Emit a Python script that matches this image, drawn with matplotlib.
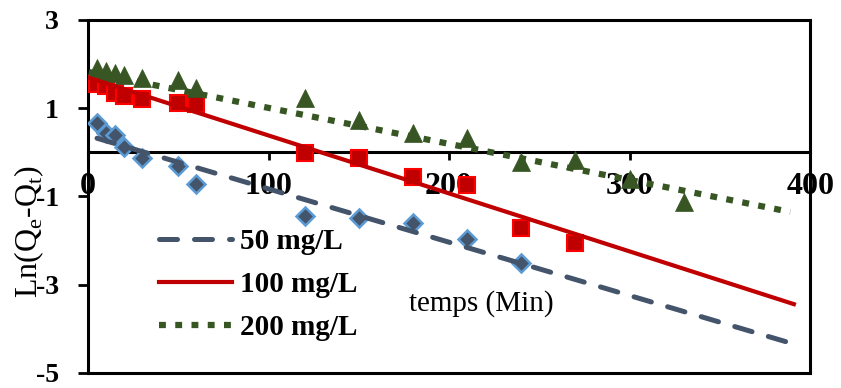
import matplotlib
matplotlib.use('Agg')
import matplotlib.pyplot as plt

# -------------------------------------------------------- #
#                  Data                 #
# -------------------------------------------------------- #

t_50 = [5, 10, 15, 20, 30, 50, 60, 120, 150, 180, 210, 240]
ln_50 = [0.66, 0.43, 0.39, 0.13, -0.13, -0.32, -0.72, -1.44, -1.49, -1.59,
         -1.97, -2.51]

t_100 = [5, 10, 15, 20, 30, 50, 60, 120, 150, 180, 210, 240, 270]
ln_100 = [1.55, 1.51, 1.35, 1.28, 1.21, 1.12, 1.10, -0.02, -0.13, -0.55,
          -0.74, -1.71, -2.05]

t_200 = [5, 10, 15, 20, 30, 50, 60, 120, 150, 180, 210, 240, 270, 300, 330]
ln_200 = [1.91, 1.85, 1.80, 1.76, 1.69, 1.64, 1.46, 1.23, 0.73, 0.44, 0.33,
          -0.21, -0.17, -0.60, -1.12]

# trend lines (end points as drawn)
trend_x_50 = [5, 389]
trend_y_50 = [0.32, -4.32]
trend_x_100 = [0.5, 391]
trend_y_100 = [1.69, -3.44]
trend_x_200 = [0.5, 389]
trend_y_200 = [1.82, -1.35]

labels = ['50 mg/L', '100 mg/L', '200 mg/L']
xticks = [0, 100, 200, 300, 400]
yticks = [-5, -3, -1, 1, 3]

# -------------------------------------------------------- #
#                        Plotting                          #
# -------------------------------------------------------- #

plt.rcParams['font.family'] = ['Liberation Serif', 'DejaVu Serif']
plt.rcParams['axes.unicode_minus'] = False

fig = plt.figure(figsize=(8.41, 3.88), dpi=100)
ax = fig.add_axes([0.1046, 0.0387, 0.8587, 0.9098])

c_50, c_50e = '#44546A', '#5B9BD5'
c_100, c_100e = '#C00000', '#FF0000'
c_200 = '#375623'

# ---------- markers ---------- #
ax.plot(t_50, ln_50, ls='none', marker='D', ms=9, mfc=c_50, mec=c_50e,
        mew=1.8, zorder=3)
ax.plot(t_100, ln_100, ls='none', marker='s', ms=11.5, mfc=c_100,
        mec=c_100e, mew=1.5, zorder=3)
ax.plot(t_200, ln_200, ls='none', marker='^', ms=12.5, mfc=c_200,
        mec=c_200, mew=0.5, zorder=3)

# ---------- trend lines ---------- #
ax.plot(trend_x_50, trend_y_50, color=c_50, lw=3.6, dashes=(3.6, 3.4),
        dash_capstyle='round', label=labels[0], zorder=4)
ax.plot(trend_x_100, trend_y_100, color=c_100, lw=3.0, label=labels[1],
        zorder=4)
ax.plot(trend_x_200, trend_y_200, color=c_200, lw=4.5, dashes=(1.1, 1.5),
        label=labels[2], zorder=4)

# ---------- axes ---------- #
ax.set_xlim(0, 400)
ax.set_ylim(-5, 3)
ax.set_xticks(xticks)
ax.set_yticks(yticks)

for s in ax.spines.values():
    s.set_linewidth(2.2)
ax.spines['bottom'].set_position(('data', 0))
ax.plot([0, 1], [0, 0], transform=ax.transAxes, color='black', lw=2.2,
        clip_on=False, solid_capstyle='projecting')

ax.tick_params(axis='x', direction='out', length=6, width=2, pad=8,
               labelsize=23)
ax.tick_params(axis='y', direction='out', length=7, width=2, pad=14,
               labelsize=20)
for t in ax.get_xticklabels() + ax.get_yticklabels():
    t.set_fontweight('bold')

ax.set_xlabel('temps (Min)', fontsize=21)
ax.xaxis.set_label_coords(0.545, 0.235)
ax.set_ylabel('Ln(Q$_\\mathregular{e}$-Q$_\\mathregular{t}$)', fontsize=23)
ax.yaxis.set_label_coords(-0.058, 0.40)

leg = ax.legend(loc='upper left', bbox_to_anchor=(0.099, 0.41),
                frameon=False, borderaxespad=0, borderpad=0,
                handlelength=2.5, handletextpad=0.25, labelspacing=0.55,
                prop={'weight': 'bold', 'size': 21})

fig.savefig('out.png', dpi=100)
